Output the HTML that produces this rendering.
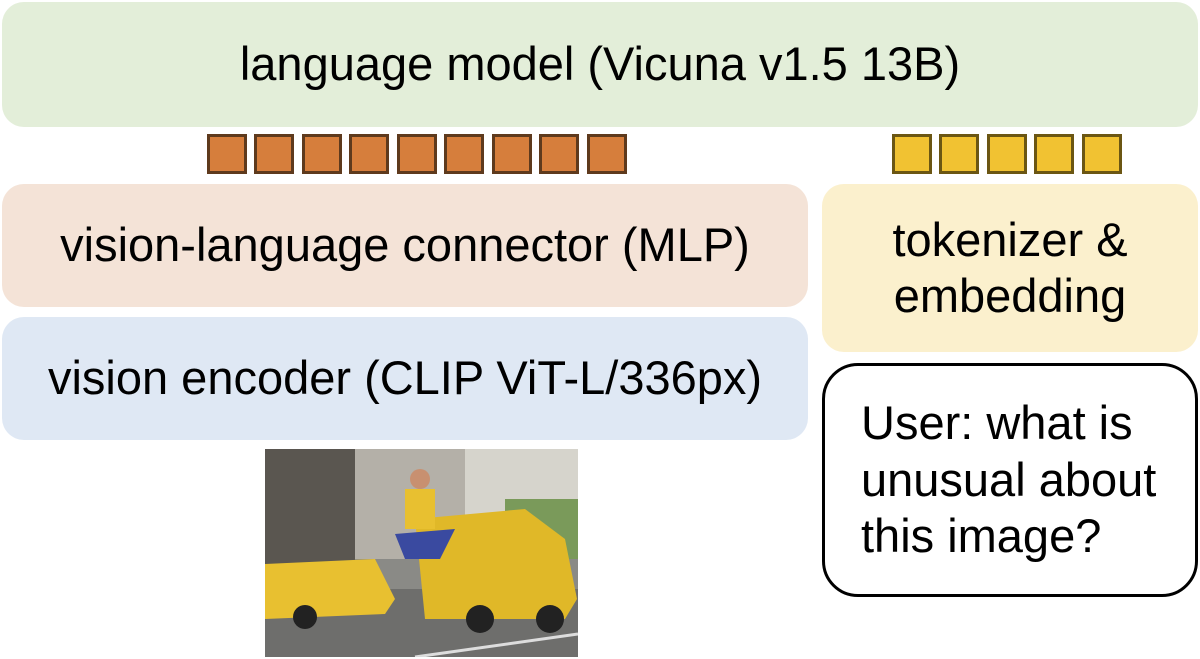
<!DOCTYPE html>
<html><head><style>
body{margin:0;width:1200px;height:659px;background:#fff;position:relative;overflow:hidden;font-family:"Liberation Sans",Arial,sans-serif;}
.b{position:absolute;border-radius:22px;display:flex;align-items:center;justify-content:center;text-align:center;font-size:47px;color:#000;line-height:1.2;}
.sq{position:absolute;width:34px;height:34px;top:134px;}
.o{background:#d67e3c;border:3px solid #5e3a1d;}
.y{background:#f1c232;border:3px solid #6b5613;}
</style></head><body>
<div class="b" style="left:2px;top:2px;width:1196px;height:125px;background:#e3eed9;">language model (Vicuna v1.5 13B)</div>
<div class="sq o" style="left:207px"></div><div class="sq o" style="left:254px"></div><div class="sq o" style="left:302px"></div><div class="sq o" style="left:349px"></div><div class="sq o" style="left:397px"></div><div class="sq o" style="left:444px"></div><div class="sq o" style="left:492px"></div><div class="sq o" style="left:539px"></div><div class="sq o" style="left:587px"></div>
<div class="sq y" style="left:892px"></div><div class="sq y" style="left:939px"></div><div class="sq y" style="left:987px"></div><div class="sq y" style="left:1034px"></div><div class="sq y" style="left:1082px"></div>
<div class="b" style="left:2px;top:184px;width:806px;height:123px;background:#f4e3d7;">vision-language connector (MLP)</div>
<div class="b" style="left:2px;top:317px;width:806px;height:123px;background:#dfe8f4;">vision encoder (CLIP ViT-L/336px)</div>
<div class="b" style="left:822px;top:184px;width:376px;height:168px;background:#fbf0cd;">tokenizer &amp;<br>embedding</div>
<div class="b" style="left:822px;top:363px;width:376px;height:234px;border:3px solid #000;border-radius:36px;justify-content:flex-start;text-align:left;padding-left:36px;box-sizing:border-box;">User: what is<br>unusual about<br>this image?</div>
<svg style="position:absolute;left:265px;top:449px" width="313" height="208" viewBox="0 0 313 208">
<rect width="313" height="208" fill="#8a8a86"/>
<rect x="0" y="0" width="90" height="120" fill="#5a5650"/>
<rect x="90" y="0" width="110" height="110" fill="#b4b0a8"/>
<rect x="200" y="0" width="113" height="100" fill="#d6d4cc"/>
<rect x="240" y="50" width="73" height="60" fill="#7a9a5a"/>
<rect x="0" y="140" width="313" height="68" fill="#6e6e6c"/>
<path d="M0 115 L110 110 L130 150 L120 165 L0 170 Z" fill="#e8c030"/>
<path d="M150 70 L260 60 L300 90 L312 150 L300 170 L160 170 Z" fill="#e0b828"/>
<rect x="140" y="40" width="30" height="40" fill="#e8c030"/>
<circle cx="155" cy="30" r="10" fill="#c89070"/>
<path d="M130 85 L190 80 L175 110 L140 110 Z" fill="#3a4aa0"/>
<circle cx="40" cy="168" r="12" fill="#222"/><circle cx="215" cy="170" r="14" fill="#222"/><circle cx="285" cy="170" r="14" fill="#222"/>
<path d="M150 208 L313 185" stroke="#ddd" stroke-width="3"/>
</svg>
</body></html>
